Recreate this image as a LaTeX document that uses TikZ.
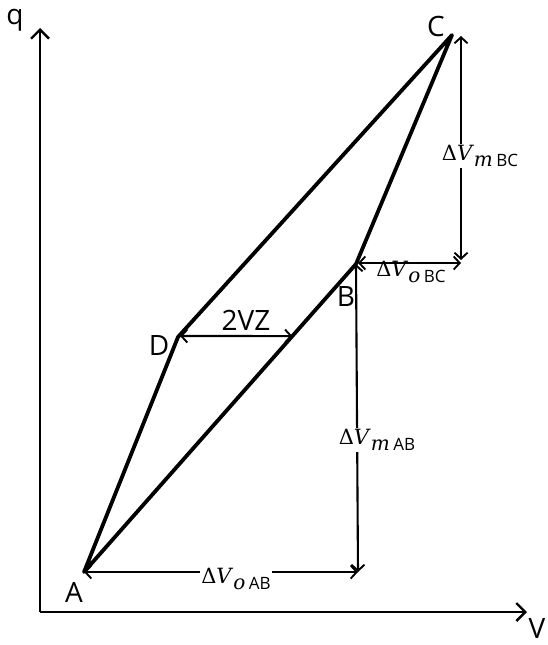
\documentclass[tikz,border=0pt]{standalone}
\usepackage{fontspec}
\setmainfont{Open Sans}
\newfontfamily\mfont{DejaVu Serif}
\usepackage{tikz}
\usetikzlibrary{arrows.meta, calc}

% Delta V with italic index and upright pair name as subscript
\newcommand{\dv}[2]{{\mfont Δ\textit{V}}\raisebox{-6pt}{{\mfont\fontsize{20}{21}\selectfont\textit{#1}}\,\fontsize{17}{19}\selectfont #2}}

\begin{document}
\begin{tikzpicture}[x=1pt, y=-1pt, font=\fontsize{28}{31}\selectfont,
  edge/.style={line width=3.8pt, line join=round, line cap=round},
  axis/.style={line width=2.6pt, -{Straight Barb[length=9pt, width=18pt, line width=2.4pt]}},
  dim/.style={line width=2.1pt, {Straight Barb[length=6pt, width=13pt, line width=1.9pt]}-{Straight Barb[length=6pt, width=13pt, line width=1.9pt]}},
  lbl/.style={inner sep=1pt},
  mlbl/.style={inner sep=1pt, font=\fontsize{21}{24}\selectfont},
  dlbl/.style={mlbl, fill=white}]
\useasboundingbox (0,0) rectangle (547,645);

% Axes
\coordinate (O) at (40,612);
\coordinate (qtop) at (40,28);
\coordinate (vend) at (527,612);
\draw[axis] (O) -- (qtop);
\draw[axis] (O) -- (vend);
\node[lbl] (q) at (15,20) {q};
\node[lbl] (v) at (537,628) {V};

% Vertices of the loop
\coordinate (A) at (84,572);
\coordinate (B) at (356,264);
\coordinate (C) at (452,35);
\coordinate (D) at (178,337);
\draw[edge] (A) -- (B) -- (C) -- (D) -- cycle;

% Vertex labels
\node[lbl] (lA) at (74,592) {A};
\node[lbl] (lB) at (346,297) {B};
\node[lbl] (lC) at (436,26) {C};
\node[lbl] (lD) at (159,346) {D};

% Helper points for the dimension arrows
\coordinate (ABcorner) at (A -| 358,0);
\coordinate (Cright) at (461,36);
\coordinate (Bright) at (461,260);
\coordinate (Bstart) at (358,263);
\coordinate (Dstart) at (180,336);
\coordinate (DtoAB) at ($(A)!0.766!(B)$);

% Dimension arrows
\draw[dim] (A) -- (ABcorner);
\draw[dim] (B) -- (ABcorner);
\draw[dim] (Cright) -- (Bright);
\draw[dim] (Bstart) -- (Bstart -| Bright);
\draw[dim] (Dstart) -- (DtoAB);

% Dimension labels
\node[dlbl] (oAB) at (236,579) {\dv{o}{AB}};
\node[dlbl] (mAB) at (377,440) {\dv{m}{AB}};
\node[dlbl] (mBC) at (480,156) {\dv{m}{BC}};
\node[mlbl] (oBC) at (411,272) {\dv{o}{BC}};
\node[lbl] (vz) at (246,320) {2VZ};

\end{tikzpicture}
\end{document}
